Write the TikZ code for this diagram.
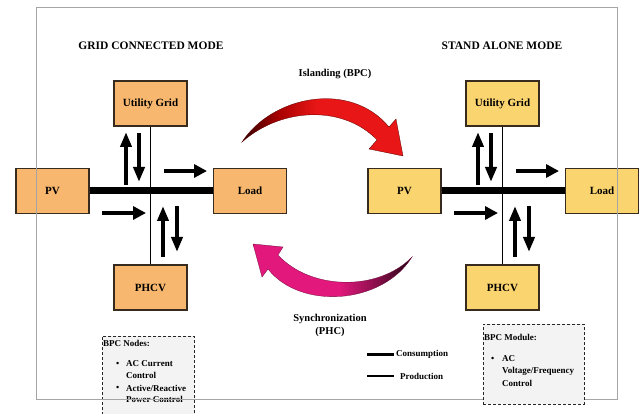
\documentclass[tikz,border=0pt]{standalone}
\usepackage{fontspec}
\setmainfont{Liberation Serif}
\usetikzlibrary{arrows.meta}
\definecolor{orangebox}{RGB}{247,183,110}
\definecolor{yellowbox}{RGB}{250,212,110}
\definecolor{boxline}{RGB}{55,42,30}
\definecolor{islandred}{RGB}{232,22,22}
\definecolor{syncpink}{RGB}{226,24,124}
\definecolor{framegray}{RGB}{165,165,165}
\definecolor{notefill}{RGB}{243,243,243}
% shadings for the two transition arrows (inner 25bp--75bp span the path)
\pgfdeclarehorizontalshading{islandshade}{100bp}{color(0bp)=(red!20!black); color(25bp)=(red!20!black);
  color(36bp)=(red!65!black); color(48bp)=(islandred); color(100bp)=(islandred)}
\pgfdeclarehorizontalshading{syncshade}{100bp}{color(0bp)=(syncpink); color(52bp)=(syncpink);
  color(64bp)=(syncpink!60!black); color(75bp)=(black!85!syncpink); color(100bp)=(black!85!syncpink)}
\begin{document}
\begin{tikzpicture}[x=1pt,y=-1pt,
  unitbox/.style={draw=boxline, line width=1.1pt, minimum width=73pt, minimum height=45pt,
    inner sep=0pt, font=\fontsize{11}{13}\selectfont\bfseries},
  gridbox/.style={unitbox, fill=orangebox},
  islandbox/.style={unitbox, fill=yellowbox},
  busline/.style={line width=7pt},
  tapline/.style={line width=1.4pt},
  hflow/.style={line width=4.5pt, -{Triangle[length=13pt,width=13pt]}},
  vflow/.style={line width=4pt, -{Triangle[length=15pt,width=11pt]}},
  modetitle/.style={font=\fontsize{11.5}{13}\selectfont\bfseries},
  transtext/.style={font=\fontsize{10.5}{13}\selectfont\bfseries, align=center},
  notebox/.style={draw=black!85, densely dashed, line width=0.9pt, fill=notefill,
    minimum width=92pt, inner sep=0pt},
  notetext/.style={font=\fontsize{9}{11}\selectfont\bfseries, anchor=west, inner sep=0pt},
  legendtext/.style={font=\fontsize{9}{11}\selectfont\bfseries, anchor=west, inner sep=0pt}
]
\useasboundingbox (0,0) rectangle (640,414);
\fill[white] (0,0) rectangle (640,414);

% ---------- control notes (left one sits under the frame) ----------
\node (noteL) [notebox, minimum height=90pt, anchor=north west] at (102,336) {};
\node (noteLh) [notetext] at (103,343) {BPC Nodes:};
\node (noteLb1) [notetext] at (116,364) {\textbullet};
\node (noteLa) [notetext] at (126,364) {AC Current};
\node (noteLa2) [notetext] at (126,375.5) {Control};
\node (noteLb2) [notetext] at (116,388) {\textbullet};
\node (noteLc) [notetext] at (126,388) {Active/Reactive};
\node (noteLc2) [notetext] at (126,399.5) {Power Control};

% ---------- grid connected mode ----------
\node (titleL) [modetitle] at (151,46) {GRID CONNECTED MODE};
\node (ugL) [gridbox] at (150.5,103.5) {Utility Grid};
\node (pvL) [gridbox] at (52.5,191) {PV};
\node (ldL) [gridbox] at (250,191) {Load};
\node (phL) [gridbox] at (150.5,287.5) {PHCV};
\draw[tapline] (ugL.south) -- (phL.north);
\draw[busline] (pvL.east) -- (ldL.west);

\coordinate (aL1s) at (126,185); \coordinate (aL1e) at (126,132);
\coordinate (aL2s) at (139,133); \coordinate (aL2e) at (139,182);
\coordinate (aL3s) at (164,171); \coordinate (aL3e) at (207,171);
\coordinate (aL4s) at (102,213); \coordinate (aL4e) at (146,213);
\coordinate (aL5s) at (163,257); \coordinate (aL5e) at (163,206);
\coordinate (aL6s) at (177,206); \coordinate (aL6e) at (177,252);
\draw[vflow] (aL1s) -- (aL1e);
\draw[vflow] (aL2s) -- (aL2e);
\draw[hflow] (aL3s) -- (aL3e);
\draw[hflow] (aL4s) -- (aL4e);
\draw[vflow] (aL5s) -- (aL5e);
\draw[vflow] (aL6s) -- (aL6e);

% ---------- stand alone mode ----------
\node (titleR) [modetitle] at (502,46) {STAND ALONE MODE};
\node (ugR) [islandbox] at (502.5,103.5) {Utility Grid};
\node (pvR) [islandbox] at (404.5,191) {PV};
\node (ldR) [islandbox] at (602,191) {Load};
\node (phR) [islandbox] at (502.5,287.5) {PHCV};
\draw[tapline] (ugR.south) -- (phR.north);
\draw[busline] (pvR.east) -- (ldR.west);

\coordinate (aR1s) at (478,185); \coordinate (aR1e) at (478,132);
\coordinate (aR2s) at (491,133); \coordinate (aR2e) at (491,182);
\coordinate (aR3s) at (516,171); \coordinate (aR3e) at (559,171);
\coordinate (aR4s) at (454,213); \coordinate (aR4e) at (498,213);
\coordinate (aR5s) at (515,257); \coordinate (aR5e) at (515,206);
\coordinate (aR6s) at (529,206); \coordinate (aR6e) at (529,252);
\draw[vflow] (aR1s) -- (aR1e);
\draw[vflow] (aR2s) -- (aR2e);
\draw[hflow] (aR3s) -- (aR3e);
\draw[hflow] (aR4s) -- (aR4e);
\draw[vflow] (aR5s) -- (aR5e);
\draw[vflow] (aR6s) -- (aR6e);

% ---------- transitions ----------
\node (island) [transtext] at (335,74) {Islanding (BPC)};
\shade[shading=islandshade, draw=red!35!black, line width=0.3pt]
  (242,142) .. controls (272,96) and (350,80) .. (389,127)
  -- (396,119) -- (403,156) -- (369,149) -- (377,140)
  .. controls (345,106) and (283,106) .. (242,142) -- cycle;

\node (sync) [transtext] at (330,325) {Synchronization\\(PHC)};
\shade[shading=syncshade, draw=syncpink!50!black, line width=0.3pt]
  (412,257) .. controls (378,292) and (310,290) .. (278,255)
  -- (283,247) -- (253,244) -- (262,277) -- (268,269)
  .. controls (300,310) and (382,305) .. (412,257) -- cycle;

% ---------- legend ----------
\coordinate (consA) at (367,354); \coordinate (consB) at (394,354);
\coordinate (prodA) at (367,376); \coordinate (prodB) at (394,376);
\draw[line width=3pt] (consA) -- (consB);
\draw[line width=2pt] (prodA) -- (prodB);
\node (consT) [legendtext] at (396,354) {Consumption};
\node (prodT) [legendtext] at (400,376) {Production};

% ---------- outer frame ----------
\draw[framegray, line width=0.8pt] (36,7) rectangle (617,399);

% ---------- control notes (right one sits over the frame) ----------
\node (noteR) [notebox, minimum width=101pt, minimum height=80pt, anchor=north west] at (483,324) {};
\node (noteRh) [notetext] at (484,337) {BPC Module:};
\node (noteRb) [notetext] at (491,359) {\textbullet};
\node (noteRa) [notetext] at (502,359) {AC};
\node (noteRa2) [notetext] at (502,371) {Voltage/Frequency};
\node (noteRa3) [notetext] at (502,383) {Control};
\end{tikzpicture}
\end{document}
